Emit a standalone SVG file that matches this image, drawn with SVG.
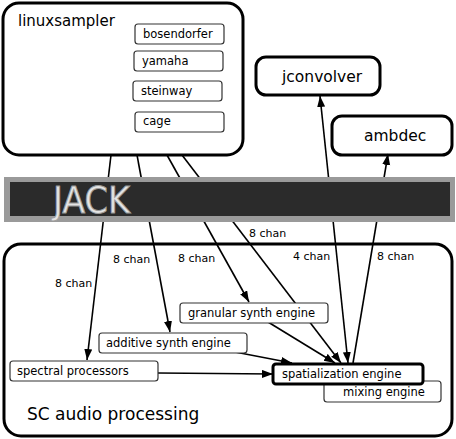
<svg xmlns="http://www.w3.org/2000/svg" width="456" height="439" viewBox="0 0 456 439">
<defs>
<marker id="ah" markerUnits="userSpaceOnUse" markerWidth="12" markerHeight="9" refX="11" refY="4" orient="auto-start-reverse">
<path d="M0,0 L11,4 L0,8 z" fill="#000"/>
</marker>
</defs>
<style>
text{font-family:"DejaVu Sans","Liberation Sans",sans-serif;fill:#000}
.big{fill:#fff;stroke:#000;stroke-width:3}
.sc{fill:none;stroke:#000;stroke-width:3}
.sub{fill:#fff;stroke:#333;stroke-width:1.2}
.st{font-size:11.5px}
.lbl{font-size:11px}
.ttl{font-size:15px}
.c{stroke:#000;stroke-width:1.6;fill:none;marker-end:url(#ah)}
</style>
<g id="sc-audio-processing">
<rect class="sc" x="4" y="244" width="448" height="192" rx="17"/>
<text x="27" y="420" style="font-size:17px">SC audio processing</text>
</g>
<g id="linuxsampler">
<rect class="big" x="3" y="3" width="240" height="152" rx="16"/>
<text class="ttl" x="18" y="26">linuxsampler</text>
</g>
<g id="jconvolver">
<rect class="big" x="256" y="57" width="124" height="38" rx="10"/>
<text class="ttl" x="282" y="82" style="font-size:15.5px">jconvolver</text>
</g>
<g id="ambdec">
<rect class="big" x="332" y="116" width="120" height="39" rx="10"/>
<text class="ttl" x="364" y="141" style="font-size:15.5px">ambdec</text>
</g>
<g id="connectors">
<line class="c" x1="111" y1="155" x2="87" y2="360"/>
<line class="c" x1="137" y1="155" x2="170" y2="332"/>
<line class="c" x1="167" y1="155" x2="249" y2="302"/>
<line class="c" x1="182" y1="155" x2="341" y2="363"/>
<line class="c" x1="268" y1="322" x2="335" y2="363"/>
<line class="c" x1="235" y1="352" x2="292" y2="363"/>
<line class="c" x1="158" y1="373" x2="273" y2="374"/>
<line class="c" x1="348" y1="363" x2="320" y2="96" style="marker-start:url(#ah)"/>
<line class="c" x1="353" y1="363" x2="388" y2="154"/>
<text class="lbl" x="55" y="287">8 chan</text>
<text class="lbl" x="113" y="263">8 chan</text>
<text class="lbl" x="178" y="262">8 chan</text>
<text class="lbl" x="249" y="237">8 chan</text>
<text class="lbl" x="293" y="260">4 chan</text>
<text class="lbl" x="377" y="260">8 chan</text>
</g>
<g id="jack">
<rect x="4" y="177" width="451" height="45" fill="#9a9a9a"/>
<rect x="10" y="182" width="440" height="34" fill="#2b2b2b"/>
<text x="53" y="213" textLength="77" lengthAdjust="spacingAndGlyphs" style="font-size:38px;fill:#e4e4e4;stroke:#9a9a9a;stroke-width:1">JACK</text>
</g>
<g id="bosendorfer"><rect class="sub" x="135" y="24" width="89" height="20" rx="3"/><text class="st" x="143" y="38">bosendorfer</text></g>
<g id="yamaha"><rect class="sub" x="134" y="51" width="89" height="20" rx="3"/><text class="st" x="142" y="65">yamaha</text></g>
<g id="steinway"><rect class="sub" x="133" y="81" width="89" height="20" rx="3"/><text class="st" x="141" y="95">steinway</text></g>
<g id="cage"><rect class="sub" x="135" y="112" width="89" height="20" rx="3"/><text class="st" x="143" y="125">cage</text></g>
<g id="granular-synth-engine"><rect class="sub" x="180" y="303" width="148" height="20" rx="3"/><text class="st" x="188" y="317">granular synth engine</text></g>
<g id="additive-synth-engine"><rect class="sub" x="99" y="333" width="148" height="20" rx="3"/><text class="st" x="106" y="347">additive synth engine</text></g>
<g id="spectral-processors"><rect class="sub" x="10" y="361" width="148" height="20" rx="3"/><text class="st" x="17" y="375">spectral processors</text></g>
<g id="mixing-engine"><rect class="sub" x="324" y="381" width="117" height="21" rx="3"/><text class="st" x="343" y="396">mixing engine</text></g>
<g id="spatialization-engine"><rect x="273" y="364" width="150" height="20" rx="3" fill="#fff" stroke="#000" stroke-width="3"/><text class="st" x="282" y="378">spatialization engine</text></g>
</svg>
